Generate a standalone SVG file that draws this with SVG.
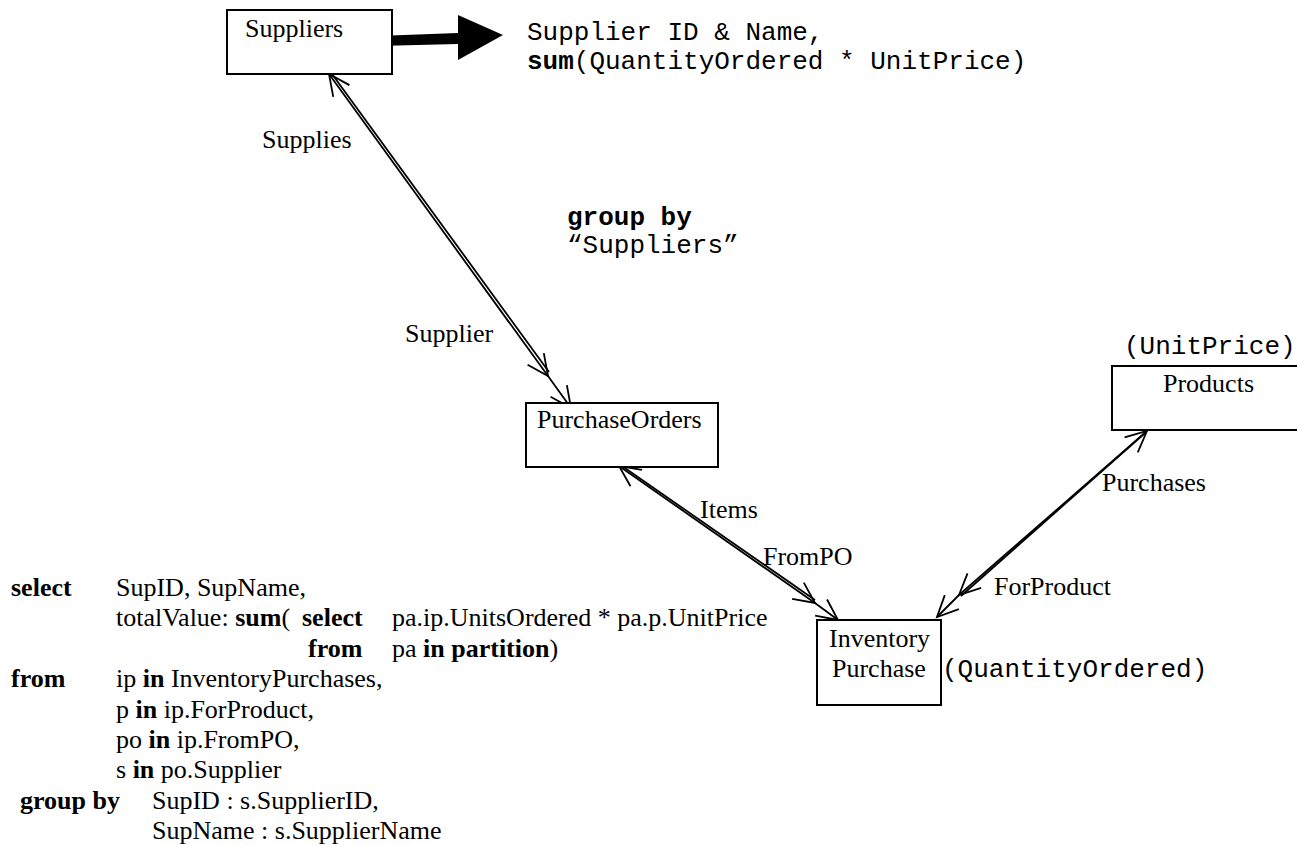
<svg xmlns="http://www.w3.org/2000/svg" width="1297" height="845" viewBox="0 0 1297 845">
<style>
.s{font-family:"Liberation Serif","Times New Roman",serif;font-size:26px;fill:#000}
.m{font-family:"Liberation Mono","Courier New",monospace;font-size:26px;fill:#000}
.b{font-weight:bold}
.box{fill:#fff;stroke:#000;stroke-width:2}
.ln{fill:none;stroke:#000;stroke-width:1.8}
</style>
<defs>
<marker id="chev" markerUnits="userSpaceOnUse" markerWidth="30" markerHeight="30" viewBox="-25 -15 30 30" refX="0" refY="0" orient="auto">
<path d="M-21,-10 L0,0 L-21,10" fill="none" stroke="#000" stroke-width="1.8"/>
</marker>
<marker id="chevs" markerUnits="userSpaceOnUse" markerWidth="30" markerHeight="30" viewBox="-25 -15 30 30" refX="0" refY="0" orient="auto-start-reverse">
<path d="M-21,-10 L0,0 L-21,10" fill="none" stroke="#000" stroke-width="1.8"/>
</marker>
</defs>

<g id="connectors">
<path class="ln" d="M329,74 L548,376 L571,408" marker-start="url(#chevs)" marker-mid="url(#chev)" marker-end="url(#chev)"/>
<path class="ln" d="M332,74 L549,372"/>
<path class="ln" d="M619,466 L815,603 L838,620" marker-start="url(#chevs)" marker-mid="url(#chev)" marker-end="url(#chev)"/>
<path class="ln" d="M622,466 L815,600"/>
<path class="ln" d="M1147,431 L959,595 L937,617" marker-start="url(#chevs)" marker-mid="url(#chev)" marker-end="url(#chev)"/>
<path class="ln" d="M1145,433 L961,596"/>
<polygon points="377,36 458,33 458,15 503,35 458,60 458,44 377,46" fill="#000"/>
<text class="s" x="262" y="148">Supplies</text>
<text class="s" x="405" y="342">Supplier</text>
<text class="s" x="700" y="518">Items</text>
<text class="s" x="763" y="565">FromPO</text>
<text class="s" x="1102" y="491">Purchases</text>
<text class="s" x="994" y="595">ForProduct</text>
</g>

<g id="suppliers">
<rect class="box" x="227" y="10" width="165" height="64"/>
<text class="s" x="245" y="37">Suppliers</text>
</g>

<g id="purchase-orders">
<rect class="box" x="526" y="403" width="192" height="64"/>
<text class="s" x="537" y="428">PurchaseOrders</text>
</g>

<g id="products">
<rect class="box" x="1112" y="366" width="200" height="64"/>
<text class="s" x="1163" y="392">Products</text>
<text class="m" x="1124" y="354">(UnitPrice)</text>
</g>

<g id="inventory-purchase">
<rect class="box" x="817" y="620" width="124" height="85"/>
<text class="s" x="829" y="647">Inventory</text>
<text class="s" x="832" y="677">Purchase</text>
<text class="m" x="942" y="677">(QuantityOrdered)</text>
</g>

<g id="result">
<text class="m" x="527" y="40">Supplier ID &amp; Name,</text>
<text class="m" x="527" y="69"><tspan class="b">sum</tspan>(QuantityOrdered * UnitPrice)</text>
</g>

<g id="group-note">
<text class="m b" x="567" y="225">group by</text>
<text class="m" x="567" y="253">“Suppliers”</text>
</g>

<g id="query">
<text class="s b" x="11" y="596">select</text>
<text class="s" x="116" y="596">SupID, SupName,</text>
<text class="s" x="116" y="626.4">totalValue: <tspan class="b">sum</tspan>(</text>
<text class="s b" x="302" y="626.4">select</text>
<text class="s" x="392" y="626.4">pa.ip.UnitsOrdered * pa.p.UnitPrice</text>
<text class="s b" x="308" y="656.8">from</text>
<text class="s" x="392" y="656.8">pa <tspan class="b">in partition</tspan>)</text>
<text class="s b" x="11" y="687.2">from</text>
<text class="s" x="116" y="687.2">ip <tspan class="b">in</tspan> InventoryPurchases,</text>
<text class="s" x="116" y="717.6">p <tspan class="b">in</tspan> ip.ForProduct,</text>
<text class="s" x="116" y="748">po <tspan class="b">in</tspan> ip.FromPO,</text>
<text class="s" x="116" y="778.4">s <tspan class="b">in</tspan> po.Supplier</text>
<text class="s b" x="20" y="808.8">group by</text>
<text class="s" x="152" y="808.8">SupID : s.SupplierID,</text>
<text class="s" x="152" y="839.2">SupName : s.SupplierName</text>
</g>
</svg>
